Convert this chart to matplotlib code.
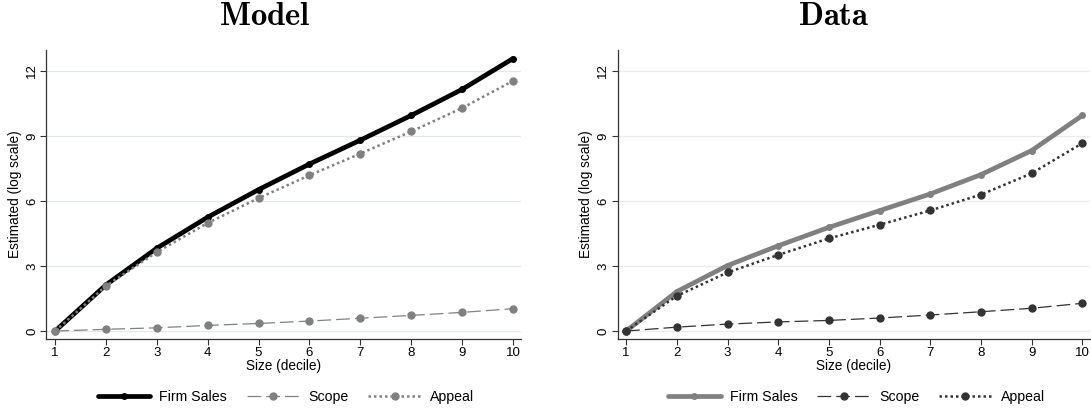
import numpy as np
import matplotlib
matplotlib.use("Agg")
import matplotlib.pyplot as plt

plt.rcParams['font.family'] = ['Liberation Sans', 'DejaVu Sans']
plt.rcParams['mathtext.fontset'] = 'cm'

deciles = [1, 2, 3, 4, 5, 6, 7, 8, 9, 10]

# Model panel
model_sales = [0, 2.13, 3.82, 5.25, 6.52, 7.70, 8.80, 9.94, 11.14, 12.56]
model_scope = [0, 0.08, 0.15, 0.26, 0.35, 0.46, 0.59, 0.72, 0.86, 1.03]
model_appeal = [0, 2.08, 3.64, 4.98, 6.13, 7.18, 8.18, 9.20, 10.28, 11.53]

# Data panel
data_sales = [0, 1.82, 3.02, 3.93, 4.78, 5.55, 6.32, 7.21, 8.32, 9.94]
data_scope = [0, 0.18, 0.32, 0.42, 0.49, 0.60, 0.74, 0.89, 1.05, 1.28]
data_appeal = [0, 1.62, 2.70, 3.51, 4.27, 4.90, 5.56, 6.29, 7.27, 8.66]

yticks = [0, 3, 6, 9, 12]

fig = plt.figure(figsize=(10.91, 4.11), dpi=100)

panels = [
    # rect, title, title x, series, main color, other color, grid color, legend x
    ([0.0426, 0.175, 0.435, 0.703], 'Model', 0.243,
     (model_sales, model_scope, model_appeal), 'black', '#808080', '#e1e8ec', 0.262),
    ([0.566, 0.175, 0.4335, 0.703], 'Data', 0.764,
     (data_sales, data_scope, data_appeal), '#808080', '#333333', '#ebebeb', 0.785),
]

for rect, title, tx, (sales, scope, appeal), c_main, c_other, gcol, lx in panels:
    ax = fig.add_axes(rect)
    l1, = ax.plot(deciles, sales, color=c_main, lw=3.4, marker='o', ms=4,
                  solid_capstyle='round', zorder=3, label='Firm Sales')
    l2, = ax.plot(deciles, scope, color=c_other, lw=0.9, marker='o', ms=5,
                  dashes=(11, 4), zorder=4, label='Scope')
    l3, = ax.plot(deciles, appeal, color=c_other, lw=1.8, marker='o', ms=5,
                  dashes=(1, 1.2), zorder=4, label='Appeal')
    ax.set_xlim(0.83, 10.16)
    ax.set_ylim(-0.37, 12.95)
    ax.set_xticks(deciles)
    ax.set_yticks(yticks)
    ax.set_yticklabels([str(v) for v in yticks], rotation=90, va='center')
    ax.tick_params(labelsize=9.5, length=4, width=0.8, color='#333333', pad=2)
    ax.grid(axis='y', color=gcol, lw=0.9, zorder=0)
    for s in ['top', 'right']:
        ax.spines[s].set_visible(False)
    for s in ['left', 'bottom']:
        ax.spines[s].set_color('#333333')
        ax.spines[s].set_linewidth(0.9)
    ax.set_xlabel('Size (decile)', fontsize=9.8, labelpad=0)
    ax.set_ylabel('Estimated (log scale)', fontsize=9.8, labelpad=3)
    fig.text(tx, 0.96, r'$\mathbf{%s}$' % title, fontsize=23.5, ha='center', va='center')
    fig.legend(handles=[l1, l2, l3], loc='center', bbox_to_anchor=(lx, 0.034),
               ncol=3, frameon=False, fontsize=10.2, handlelength=3.7, numpoints=1,
               columnspacing=1.4, handletextpad=0.65)

fig.savefig('out.png', dpi=100)
